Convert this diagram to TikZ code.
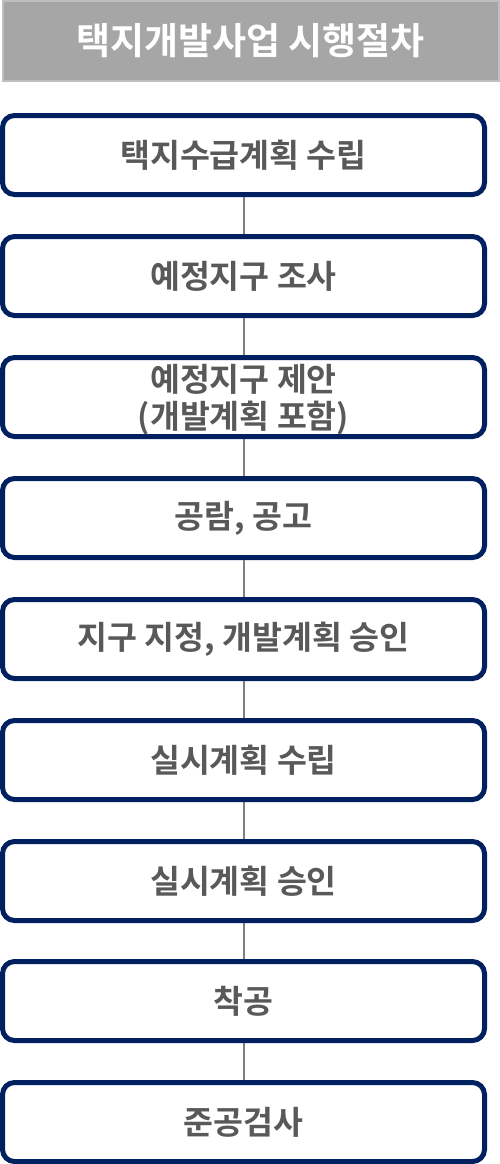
\documentclass[tikz,border=0pt]{standalone}
\usepackage{fontspec}
\setmainfont{Noto Sans CJK KR}[BoldFont={Noto Sans CJK KR Bold}]
\definecolor{navy}{HTML}{002060}
\definecolor{txtgray}{HTML}{595959}
\definecolor{bargray}{HTML}{A6A6A6}
\definecolor{barline}{HTML}{BFBFBF}
\definecolor{linkgray}{HTML}{7F7F7F}
\begin{document}
\begin{tikzpicture}[x=1pt,y=-1pt,
  stage/.style={draw=navy, line width=5pt, rounded corners=12pt, fill=white,
    minimum width=482pt, minimum height=79pt, align=center, text=txtgray,
    font=\fontsize{32.5}{37}\selectfont\bfseries, inner sep=0pt},
  link/.style={draw=linkgray, line width=2pt}]
\useasboundingbox (0,0) rectangle (500,1164);
\node[fill=bargray, draw=barline, line width=2pt, minimum width=496pt, minimum height=79pt,
  text=white, font=\fontsize{37}{40}\selectfont\bfseries] (title) at (250.5,41) {택지개발사업 시행절차};

\node[stage] (1) at (243.5,155) {택지수급계획 수립};
\node[stage] (2) at (243.5,276) {예정지구 조사};
\node[stage, text depth=2pt] (3) at (243.5,397) {예정지구 제안\\(개발계획 포함)};
\node[stage] (4) at (243.5,518) {공람, 공고};
\node[stage] (5) at (243.5,639) {지구 지정, 개발계획 승인};
\node[stage] (6) at (243.5,760) {실시계획 수립};
\node[stage] (7) at (243.5,881) {실시계획 승인};
\node[stage] (8) at (243.5,1001) {착공};
\node[stage] (9) at (243.5,1122) {준공검사};

\path[link] (1) -- (2);
\path[link] (2) -- (3);
\path[link] (3) -- (4);
\path[link] (4) -- (5);
\path[link] (5) -- (6);
\path[link] (6) -- (7);
\path[link] (7) -- (8);
\path[link] (8) -- (9);
\end{tikzpicture}
\end{document}
